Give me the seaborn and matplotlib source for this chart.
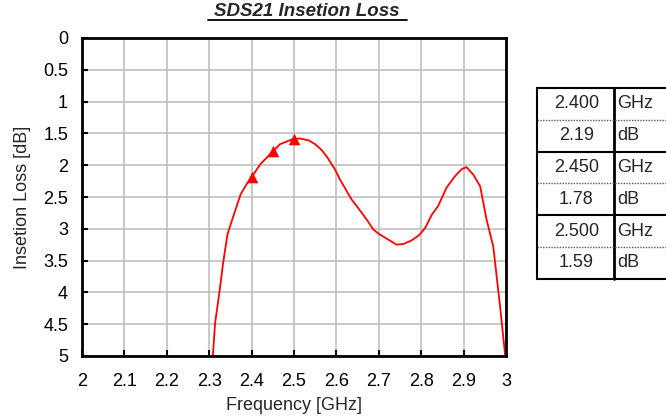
"""SDS21 insertion loss chart with marker table."""
import matplotlib

matplotlib.use("Agg")
import matplotlib.pyplot as plt
import pandas as pd
import seaborn as sns
from matplotlib.lines import Line2D

# curve
freq_ghz = [2.308, 2.314, 2.325, 2.333, 2.343, 2.357, 2.374, 2.388, 2.40, 2.42, 2.45,
            2.467, 2.497, 2.514, 2.535, 2.55, 2.565, 2.577, 2.597, 2.608, 2.622, 2.636,
            2.66, 2.675, 2.687, 2.70, 2.715, 2.742, 2.758, 2.778, 2.795, 2.809, 2.825,
            2.84, 2.86, 2.88, 2.896, 2.907, 2.923, 2.939, 2.954, 2.97, 2.986, 2.999]
loss_db = [5.05, 4.48, 3.95, 3.53, 3.09, 2.80, 2.46, 2.30, 2.19, 1.99, 1.78,
           1.67, 1.59, 1.58, 1.61, 1.67, 1.76, 1.86, 2.07, 2.22, 2.38, 2.54,
           2.75, 2.89, 3.01, 3.08, 3.14, 3.25, 3.24, 3.18, 3.10, 2.99, 2.78,
           2.64, 2.35, 2.17, 2.06, 2.03, 2.15, 2.33, 2.85, 3.28, 4.22, 5.05]

marker_freq = [2.400, 2.450, 2.500]
marker_loss = [2.19, 1.78, 1.59]

x_ticks = [2.0, 2.1, 2.2, 2.3, 2.4, 2.5, 2.6, 2.7, 2.8, 2.9, 3.0]
y_ticks = [0, 0.5, 1, 1.5, 2, 2.5, 3, 3.5, 4, 4.5, 5]

sns.set_theme(style="white")
plt.rcParams["font.family"] = ["Liberation Sans", "DejaVu Sans"]

FS = 13

curve = pd.DataFrame({"freq": freq_ghz, "loss": loss_db})
marks = pd.DataFrame({"freq": marker_freq, "loss": marker_loss})

fig = plt.figure(figsize=(6.66, 4.2), dpi=100)
ax = fig.add_axes([82 / 666, 1 - 356 / 420, 424 / 666, 318 / 420])

sns.lineplot(data=curve, x="freq", y="loss", color="red", linewidth=1.3, sort=False, ax=ax)
sns.scatterplot(data=marks, x="freq", y="loss", color="red", marker="^", s=70,
                edgecolor="red", linewidth=0, zorder=5, ax=ax)

ax.set_xlim(2, 3)
ax.set_ylim(5, 0)
ax.set_xticks(x_ticks)
ax.set_xticklabels([f"{t:g}" for t in x_ticks])
ax.set_yticks(y_ticks)
ax.set_yticklabels([f"{t:g}" for t in y_ticks])
ax.grid(True, color="#c0c0c0", linewidth=1.2)
ax.tick_params(axis="both", direction="in", length=4, width=1.5, colors="black",
               labelsize=FS, bottom=True, left=True)
ax.tick_params(axis="x", pad=12)
ax.tick_params(axis="y", pad=10)
for sp in ax.spines.values():
    sp.set_color("black")
    sp.set_linewidth(2)
ax.set_xlabel("Frequency [GHz]", fontsize=FS, labelpad=5)
ax.set_ylabel("Insetion Loss [dB]", fontsize=FS, labelpad=9)

# title, bold italic with underline
fig.text(307 / 666, 1 - 11 / 420, "SDS21 Insetion Loss", ha="center", va="center",
         fontsize=FS + 0.5, fontweight="bold", fontstyle="italic")
fig.add_artist(Line2D([208 / 666, 407 / 666], [1 - 20 / 420, 1 - 20 / 420],
                      color="black", linewidth=1.3, transform=fig.transFigure))

# marker table
rows = []
for f, l in zip(marker_freq, marker_loss):
    rows.append((f"{f:.3f}", "GHz"))
    rows.append((f"{l:.2f}", "dB"))

tx0, tx1, tx2 = 537, 614, 680
ty0, row_h = 88, 31.8


def fx(px):
    return px / 666


def fy(py):
    return 1 - py / 420


for i, (num, unit) in enumerate(rows):
    yc = ty0 + row_h * (i + 0.5)
    fig.text(fx((tx0 + tx1) / 2 + 1), fy(yc), num, ha="center", va="center", fontsize=FS)
    fig.text(fx(tx1 + 3), fy(yc), unit, ha="left", va="center", fontsize=FS)

ty_end = ty0 + row_h * len(rows)
for x in (tx0, tx1):
    fig.add_artist(Line2D([fx(x), fx(x)], [fy(ty0), fy(ty_end)], color="black",
                          linewidth=1.5 if x == tx0 else 2, transform=fig.transFigure))
for i in range(len(rows) + 1):
    y = ty0 + row_h * i
    if i % 2 == 0:
        fig.add_artist(Line2D([fx(tx0), fx(tx2)], [fy(y), fy(y)], color="black",
                              linewidth=1.5, transform=fig.transFigure))
    else:
        fig.add_artist(Line2D([fx(tx0), fx(tx2)], [fy(y), fy(y)], color="#555555",
                              linewidth=1, linestyle=(0, (1, 1)), transform=fig.transFigure))

fig.savefig("out.png", dpi=100)
